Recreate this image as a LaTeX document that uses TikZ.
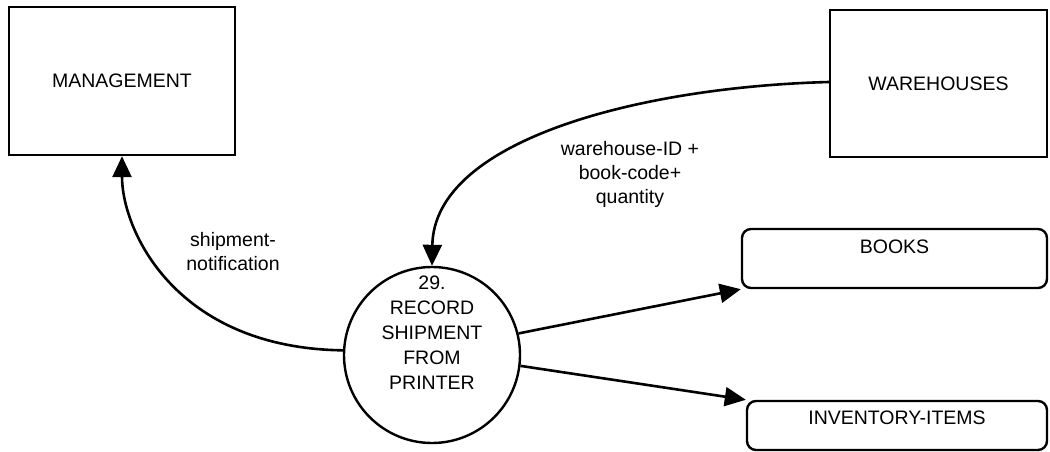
\documentclass[tikz,border=0pt]{standalone}
\usepackage{fontspec}
\setmainfont{Liberation Sans}
\usetikzlibrary{arrows.meta}
\begin{document}
\begin{tikzpicture}[x=1pt,y=-1pt,
  lbl/.style={font=\fontsize{19.5pt}{24pt}\selectfont, align=center, inner sep=0pt},
  extbox/.style={draw, line width=2.4pt, inner sep=0pt, font=\fontsize{19.5pt}{24pt}\selectfont},
  storebox/.style={draw, line width=2.4pt, rounded corners=9pt, inner sep=0pt, font=\fontsize{19.5pt}{24pt}\selectfont},
  procnode/.style={draw, circle, line width=2.4pt, inner sep=0pt, minimum size=176pt},
  flow/.style={line width=2.6pt, -{Triangle[length=21pt,width=19pt]}}
]
\useasboundingbox (0,0) rectangle (1050,452);
\node[extbox, minimum width=226pt, minimum height=148pt] (mgmt) at (122,81) {MANAGEMENT};
\node[extbox, minimum width=217pt, minimum height=147pt] (wh) at (938.5,83.5) {WAREHOUSES};
\node[storebox, minimum width=305pt, text height=24pt, text depth=35pt] (books) at (894.5,258.5) {BOOKS};
\node[storebox, minimum width=300pt, text height=23pt, text depth=26pt] (inv) at (897,425.5) {INVENTORY-ITEMS};
\node[procnode, label={[name=ptext, lbl, font=\fontsize{19.5pt}{25pt}\selectfont, yshift=22pt]center:29.\\RECORD\\SHIPMENT\\FROM\\PRINTER}] (p) at (432,355) {};
\node[lbl] (l1) at (233,252) {shipment-\\notification};
\node[lbl] (l2) at (630,174) {warehouse-ID +\\book-code+\\quantity};
\draw[flow] (p.177) .. controls (175,348) and (122,230) .. (mgmt.south);
\draw[flow] ([yshift=1.5pt]wh.west) .. controls (640,87) and (434,140) .. (p.north);
\draw[flow] (p.14) -- (books.south west);
\draw[flow] (p.-7) -- (inv.north west);
\end{tikzpicture}
\end{document}
